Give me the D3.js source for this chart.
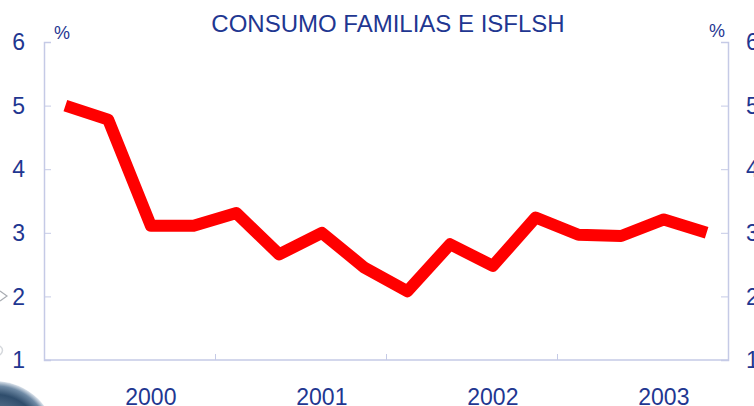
<!DOCTYPE html>
<html>
<head>
<meta charset="utf-8">
<script src="https://cdn.jsdelivr.net/npm/d3@7"></script>
<style>
  body { margin: 0; background: #fff; }
  svg { display: block; font-family: "Liberation Sans", Arial, sans-serif; }
</style>
</head>
<body>
<svg id="chart" width="754" height="406"></svg>
<script>
// quarterly values, 2000 Q1 .. 2003 Q4
const quarters = d3.range(16);
const values = [5.0, 4.78, 3.11, 3.11, 3.31, 2.66, 3.0, 2.45, 2.08, 2.82, 2.48, 3.24, 2.97, 2.95, 3.21, 3.0];
const years = ["2000", "2001", "2002", "2003"];
const yTicks = [1, 2, 3, 4, 5, 6];
const title = "CONSUMO FAMILIAS E ISFLSH";

const svg = d3.select('#chart');
const margin = {top: 42, right: 26, bottom: 46, left: 44};
const width = +svg.attr('width') - margin.left - margin.right;
const height = +svg.attr('height') - margin.top - margin.bottom;
const textColor = '#1f3791';
const axisColor = '#c5cae6';

// partial logo in the corner
const defs = svg.append('defs');
const grad = defs.append('radialGradient').attr('id', 'logo-grad');
grad.append('stop').attr('offset', '0%').attr('stop-color', '#9fb3c6');
grad.append('stop').attr('offset', '78%').attr('stop-color', '#2f4d6c');
grad.append('stop').attr('offset', '92%').attr('stop-color', '#6f8aa5');
grad.append('stop').attr('offset', '100%').attr('stop-color', '#dfe6ee');
svg.append('circle').attr('cx', -5).attr('cy', 442).attr('r', 61).attr('fill', 'url(#logo-grad)');
svg.append('path').attr('d', 'M0,291L7,296L0,301').attr('fill', 'none')
    .attr('stroke', '#a9adb3').attr('stroke-width', 1.2);
svg.append('path').attr('d', 'M0,346Q5,350 0,355').attr('fill', 'none')
    .attr('stroke', '#d5d8dc').attr('stroke-width', 1.5);

const x = d3.scaleBand().domain(quarters).range([0, width]);
const y = d3.scaleLinear().domain([1, 6]).range([height, 0]);

const g = svg.append('g').attr('transform', 'translate(' + margin.left + ',' + margin.top + ')');

// left axis
const left = g.append('g').attr('class', 'axis').call(d3.axisRight(y).tickValues(yTicks).tickSize(7).tickFormat(''));
// right axis
const right = g.append('g').attr('transform', 'translate(' + width + ',0)').call(d3.axisLeft(y).tickValues(yTicks).tickSize(7).tickFormat(''));
// bottom axis, tick every 4 quarters
const xb = d3.scaleLinear().domain([0, 16]).range([0, width]);
const bottom = g.append('g').attr('transform', 'translate(0,' + height + ')')
    .call(d3.axisTop(xb).tickValues([4, 8, 12]).tickSize(6).tickFormat(''));

[left, right, bottom].forEach((a) => {
    a.select('.domain').attr('stroke', axisColor).attr('stroke-width', 1.5);
    a.selectAll('.tick line').attr('stroke', axisColor);
});
bottom.select('.domain').attr('d', 'M0,0H' + width);

// tick labels
g.selectAll('.ylab-left').data(yTicks).enter().append('text')
    .attr('x', -19).attr('y', (d) => y(d)).attr('dy', '0.36em')
    .attr('text-anchor', 'end').attr('fill', textColor).style('font-size', '23px')
    .text((d) => d);
g.selectAll('.ylab-right').data(yTicks).enter().append('text')
    .attr('x', width + 18).attr('y', (d) => y(d)).attr('dy', '0.36em')
    .attr('text-anchor', 'start').attr('fill', textColor).style('font-size', '23px')
    .text((d) => d);

g.selectAll('.xlab').data(years).enter().append('text')
    .attr('x', (d, i) => x(i * 4 + 2) + x.bandwidth() / 2).attr('y', height + 45)
    .attr('text-anchor', 'middle').attr('fill', textColor).style('font-size', '23px')
    .text((d) => d);

g.append('text').attr('x', 18).attr('y', -3).attr('text-anchor', 'middle')
    .attr('fill', textColor).style('font-size', '18px').text('%');
g.append('text').attr('x', width - 11).attr('y', -5).attr('text-anchor', 'middle')
    .attr('fill', textColor).style('font-size', '18px').text('%');

svg.append('text').attr('x', 388).attr('y', 32).attr('text-anchor', 'middle')
    .attr('fill', textColor).style('font-size', '24px').text(title);

// the series
const line = d3.line().x((d, i) => x(quarters[i]) + x.bandwidth() / 2).y((d) => y(d));
g.append('path')
    .data([values])
    .attr('fill', 'none')
    .attr('stroke', '#ff0000')
    .attr('stroke-width', 12)
    .attr('stroke-linejoin', 'round')
    .attr('d', line);
</script>
</body>
</html>
